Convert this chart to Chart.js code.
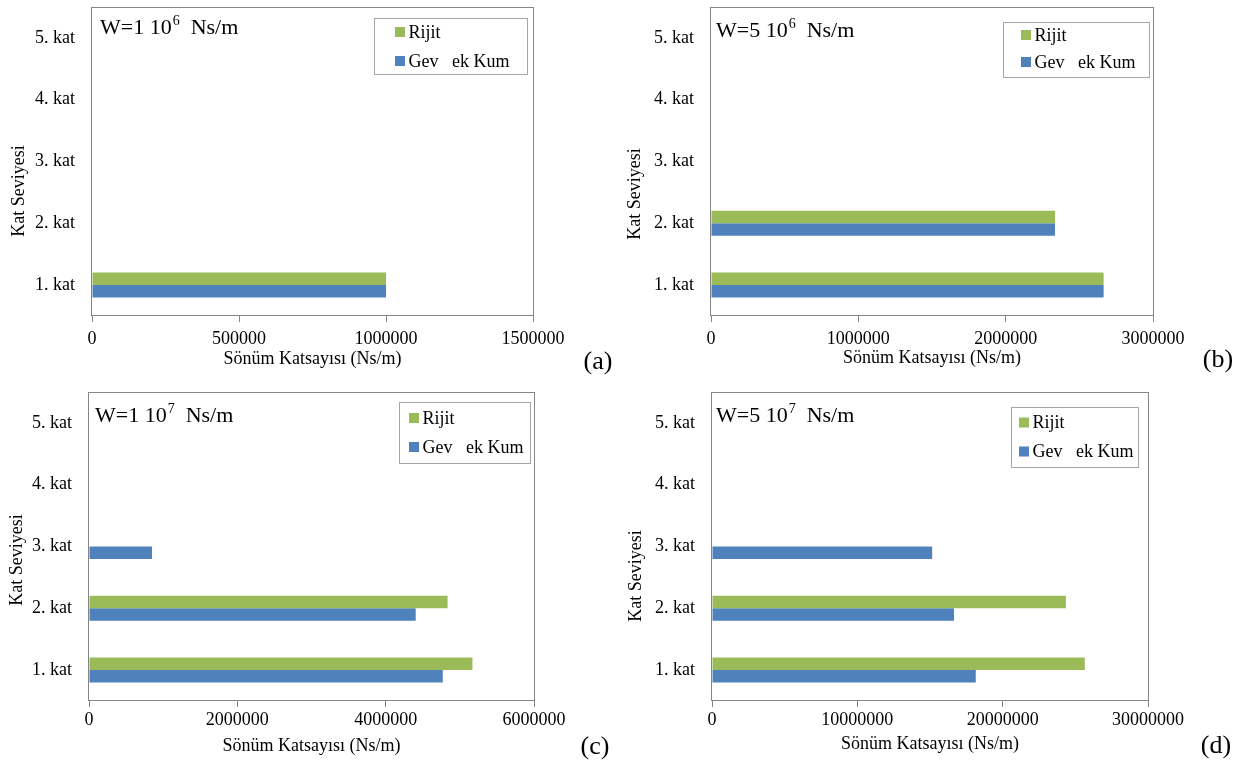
<!DOCTYPE html>
<html>
<head>
<meta charset="utf-8">
<script src="https://cdn.jsdelivr.net/npm/chart.js@4.4.0/dist/chart.umd.min.js"></script>
<style>
  html, body { margin: 0; padding: 0; background: #fff; }
  #wrap { position: relative; width: 1242px; height: 762px; overflow: hidden; }
  .panel { position: absolute; width: 621px; height: 381px; }
  .panel canvas { display: block; }
</style>
</head>
<body>
<div id="wrap">
  <div class="panel" style="left:0;top:0"><canvas id="pa" width="621" height="381"></canvas></div>
  <div class="panel" style="left:621px;top:0"><canvas id="pb" width="621" height="381"></canvas></div>
  <div class="panel" style="left:0;top:381px"><canvas id="pc" width="621" height="381"></canvas></div>
  <div class="panel" style="left:621px;top:381px"><canvas id="pd" width="621" height="381"></canvas></div>
</div>
<script>
// Floor levels (category axis) and series names
const floors = ['1. kat', '2. kat', '3. kat', '4. kat', '5. kat'];
const seriesNames = ['Rijit', 'Gev\u00a0\u00a0\u00a0ek Kum'];

// Damping coefficients per floor (Ns/m), W = 1·10^6
const rijitA = [1000000, null, null, null, null];
const kumA   = [1000000, null, null, null, null];
// W = 5·10^6
const rijitB = [2665000, 2335000, null, null, null];
const kumB   = [2665000, 2335000, null, null, null];
// W = 1·10^7
const rijitC = [5170000, 4835000, null, null, null];
const kumC   = [4770000, 4405000, 850000, null, null];
// W = 5·10^7
const rijitD = [25650000, 24350000, null, null, null];
const kumD   = [18150000, 16650000, 15150000, null, null];

// X-axis ranges / tick steps
const xMaxes = [1500000, 3000000, 6000000, 30000000];
const xSteps = [500000, 1000000, 2000000, 10000000];

// Panel headings: W = mantissa · 10^exponent Ns/m
const wMantissa = ['1', '5', '1', '5'];
const wExponent = ['6', '6', '7', '7'];
const panelTags = ['(a)', '(b)', '(c)', '(d)'];

const xTitle = 'Sönüm Katsayısı (Ns/m)';
const yTitle = 'Kat Seviyesi';

const GREEN = '#9BBB59';
const BLUE = '#4F81BD';
const FRAME = '#868686';
const SERIF = "'Liberation Serif', 'Times New Roman', serif";

// Layout of each panel canvas (canvas pixel coordinates)
const LAYOUT = {
  pa: { area: { l: 92, t: 7, r: 533, b: 316 }, xTickPad: 6, xTitleY: 359, yTitle: { x: 19, y: 191 },
        tag: { x: 598, y: 362 }, head: { x: 100, y: 34 },
        legend: { x: 374, y: 18, w: 153, h: 56, padL: 21, row1: 14, gap: 29 } },
  pb: { area: { l: 90, t: 7, r: 532, b: 316 }, xTickPad: 6, xTitleY: 358, yTitle: { x: 14, y: 194 },
        tag: { x: 597, y: 360 }, head: { x: 95, y: 37 },
        legend: { x: 382, y: 22, w: 146, h: 55, padL: 18, row1: 13, gap: 27 } },
  pc: { area: { l: 89, t: 11, r: 534, b: 320 }, xTickPad: 2, xTitleY: 365, yTitle: { x: 17, y: 179 },
        tag: { x: 595, y: 366 }, head: { x: 95, y: 41 },
        legend: { x: 399, y: 21, w: 131, h: 61, padL: 10, row1: 16, gap: 29 } },
  pd: { area: { l: 91, t: 11, r: 527, b: 320 }, xTickPad: 2, xTitleY: 363, yTitle: { x: 15, y: 195 },
        tag: { x: 595, y: 365 }, head: { x: 95, y: 41 },
        legend: { x: 390, y: 26, w: 127, h: 60, padL: 8, row1: 15.5, gap: 29 } }
};

// Frame, heading, legend box, axis titles and panel tag
const panelDeco = {
  id: 'panelDeco',
  beforeDatasetsDraw(chart) {
    const { ctx, chartArea: a } = chart;
    ctx.save();
    ctx.strokeStyle = FRAME;
    ctx.lineWidth = 1;
    ctx.strokeRect(Math.round(a.left) - 0.5, Math.round(a.top) + 0.5,
                   Math.round(a.right - a.left) + 1, Math.round(a.bottom - a.top) - 1);
    ctx.restore();
  },
  afterDraw(chart) {
    const ctx = chart.ctx;
    const lay = LAYOUT[chart.canvas.id];
    const i = chart.$panelIndex;
    ctx.save();
    ctx.fillStyle = '#000';

    // Heading: W=m 10^e  Ns/m
    ctx.textAlign = 'left';
    ctx.textBaseline = 'alphabetic';
    ctx.font = '22px ' + SERIF;
    let x = lay.head.x;
    const base = 'W=' + wMantissa[i] + ' 10';
    ctx.fillText(base, x, lay.head.y);
    x += ctx.measureText(base).width + 1;
    ctx.font = '14px ' + SERIF;
    ctx.fillText(wExponent[i], x, lay.head.y - 9);
    x += ctx.measureText(wExponent[i]).width;
    ctx.font = '22px ' + SERIF;
    ctx.fillText('  Ns/m', x, lay.head.y);

    // Legend box
    const lg = lay.legend;
    ctx.strokeStyle = '#A6A6A6';
    ctx.lineWidth = 1;
    ctx.strokeRect(lg.x + 0.5, lg.y + 0.5, lg.w, lg.h);
    ctx.font = '18px ' + SERIF;
    ctx.textBaseline = 'middle';
    chart.data.datasets.forEach((ds, k) => {
      const cy = lg.y + lg.row1 + k * lg.gap;
      ctx.fillStyle = ds.backgroundColor;
      ctx.fillRect(lg.x + lg.padL, cy - 5, 10, 10);
      ctx.fillStyle = '#000';
      ctx.fillText(ds.label, lg.x + lg.padL + 13.5, cy + 1);
    });

    // Axis titles
    ctx.font = '18px ' + SERIF;
    ctx.textAlign = 'center';
    ctx.textBaseline = 'middle';
    const a = chart.chartArea;
    ctx.fillText(xTitle, (a.left + a.right) / 2, lay.xTitleY);
    ctx.save();
    ctx.translate(lay.yTitle.x, lay.yTitle.y);
    ctx.rotate(-Math.PI / 2);
    ctx.fillText(yTitle, 0, 0);
    ctx.restore();

    // Panel tag
    ctx.font = '26px ' + SERIF;
    ctx.fillText(panelTags[i], lay.tag.x, lay.tag.y);
    ctx.restore();
  }
};

function makePanel(id, i, rijit, kum) {
  const lay = LAYOUT[id];
  const W = 621, H = 381;
  const tickFont = { family: SERIF, size: 18 };
  const chart = new Chart(document.getElementById(id), {
    type: 'bar',
    data: {
      labels: floors,
      datasets: [
        { label: seriesNames[0], data: rijit, backgroundColor: GREEN,
          categoryPercentage: 0.405, barPercentage: 1, borderWidth: 0 },
        { label: seriesNames[1], data: kum, backgroundColor: BLUE,
          categoryPercentage: 0.405, barPercentage: 1, borderWidth: 0 }
      ]
    },
    options: {
      indexAxis: 'y',
      responsive: false,
      animation: false,
      events: [],
      layout: { padding: { left: 0, top: lay.area.t, right: W - lay.area.r, bottom: 0 } },
      plugins: { legend: { display: false }, tooltip: { enabled: false } },
      scales: {
        x: {
          type: 'linear',
          min: 0,
          max: xMaxes[i],
          ticks: { stepSize: xSteps[i], callback: v => String(v), maxRotation: 0, autoSkip: false,
                   padding: lay.xTickPad, color: '#000', font: tickFont },
          grid: { display: true, drawOnChartArea: false, drawTicks: true, tickLength: 6, color: FRAME },
          border: { display: false },
          afterFit: s => { s.height = H - lay.area.b; s.paddingLeft = 0; s.paddingRight = 0; }
        },
        y: {
          reverse: true,
          ticks: { padding: 17, color: '#000', font: tickFont },
          grid: { display: false, drawTicks: false },
          border: { display: false },
          afterFit: s => { s.width = lay.area.l; s.paddingTop = 0; s.paddingBottom = 0; }
        }
      }
    },
    plugins: [{ id: 'panelIndex', beforeInit(c) { c.$panelIndex = i; } }, panelDeco]
  });
  return chart;
}

makePanel('pa', 0, rijitA, kumA);
makePanel('pb', 1, rijitB, kumB);
makePanel('pc', 2, rijitC, kumC);
makePanel('pd', 3, rijitD, kumD);
</script>
</body>
</html>
